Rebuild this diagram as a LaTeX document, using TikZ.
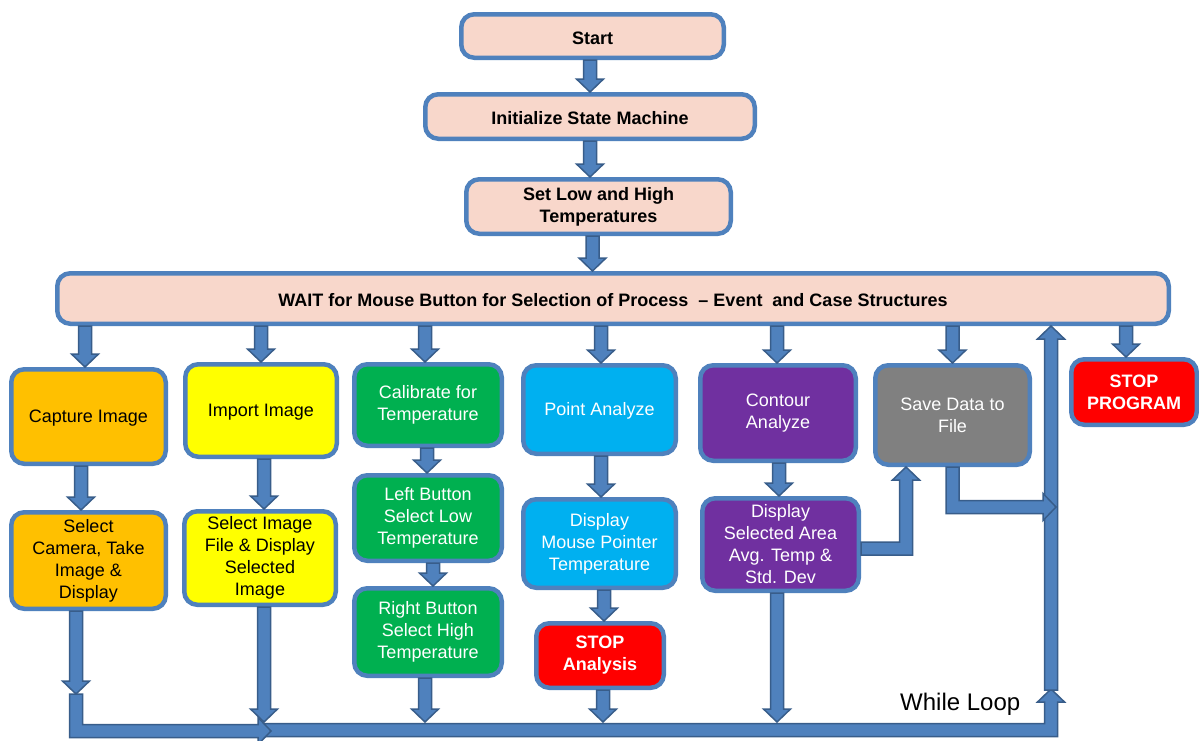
\documentclass[tikz,border=0pt]{standalone}
\usepackage{fontspec}
\setmainfont{Liberation Sans}
\usetikzlibrary{calc}
\definecolor{peach}{HTML}{F8D7CB}
\definecolor{bord}{HTML}{4F81BD}
\definecolor{arrf}{HTML}{4F81BD}
\definecolor{arrd}{HTML}{385D8A}
\definecolor{orng}{HTML}{FFC000}
\definecolor{yel}{HTML}{FFFF00}
\definecolor{grn}{HTML}{00B050}
\definecolor{sky}{HTML}{00B0F0}
\definecolor{purp}{HTML}{7030A0}
\definecolor{gry}{HTML}{808080}
\definecolor{stopred}{HTML}{FF0000}
\tikzset{
  box/.style={draw=bord, line width=4.5pt, rounded corners=13pt, align=center, inner sep=2pt, font=\fontsize{18}{22}\selectfont, execute at begin node={\rule{0pt}{16.5pt}}},
  peachbox/.style={box, fill=peach, font=\fontsize{18}{22}\selectfont\bfseries},
  wbox/.style={box, text=white},
  stopbox/.style={box, fill=stopred, text=white, font=\fontsize{18}{22}\selectfont\bfseries},
  blk/.style={fill=arrf, draw=arrd, line width=1.5pt, line join=miter},
}
\def\aS{6.5pt}
\def\aW{13.5pt}
\def\aL{13pt}
% straight down: start y from #1, tip #2
\newcommand\badown[2]{\draw[blk] let \p1=#1, \p2=#2 in
  (\x2-\aS,\y1) -- (\x2-\aS,\y2+\aL) -- (\x2-\aW,\y2+\aL) -- (\x2,\y2) -- (\x2+\aW,\y2+\aL) -- (\x2+\aS,\y2+\aL) -- (\x2+\aS,\y1) -- cycle;}
% straight up
\newcommand\baup[2]{\draw[blk] let \p1=#1, \p2=#2 in
  (\x2-\aS,\y1) -- (\x2-\aS,\y2-\aL) -- (\x2-\aW,\y2-\aL) -- (\x2,\y2) -- (\x2+\aW,\y2-\aL) -- (\x2+\aS,\y2-\aL) -- (\x2+\aS,\y1) -- cycle;}
% down then right
\newcommand\badownright[2]{\draw[blk] let \p1=#1, \p2=#2 in
  (\x1-\aS,\y1) -- (\x1-\aS,\y2-\aS) -- (\x2-\aL,\y2-\aS) -- (\x2-\aL,\y2-\aW) -- (\x2,\y2) -- (\x2-\aL,\y2+\aW) -- (\x2-\aL,\y2+\aS) -- (\x1+\aS,\y2+\aS) -- (\x1+\aS,\y1) -- cycle;}
% right then up
\newcommand\barightup[2]{\draw[blk] let \p1=#1, \p2=#2 in
  (\x1,\y1+\aS) -- (\x2-\aS,\y1+\aS) -- (\x2-\aS,\y2-\aL) -- (\x2-\aW,\y2-\aL) -- (\x2,\y2) -- (\x2+\aW,\y2-\aL) -- (\x2+\aS,\y2-\aL) -- (\x2+\aS,\y1-\aS) -- (\x1,\y1-\aS) -- cycle;}
\begin{document}
\begin{tikzpicture}[x=1pt,y=-1pt]
\fill[white] (0,0) rectangle (1199,740);
\useasboundingbox (0,0) rectangle (1199,740);
% nodes
\node[peachbox, minimum width=262.5pt, minimum height=43.5pt] (start) at (592.5,36) {Start};
\node[peachbox, minimum width=329.5pt, minimum height=44.5pt] (init) at (590,116.5) {Initialize State Machine};
\node[peachbox, minimum width=264.5pt, minimum height=54.5pt] (setlh) at (598.5,206.5) {Set Low and High\\Temperatures};
\node[peachbox, minimum width=1111.5pt, minimum height=50.5pt] (wait) at (613,298.5) {WAIT for Mouse Button for Selection of Process \ – Event \ and Case Structures};
\node[box, fill=orng, minimum width=154.5pt, minimum height=94.5pt] (cap) at (88.5,416.5) {Capture Image};
\node[box, fill=orng, minimum width=154.5pt, minimum height=96.5pt] (selcam) at (88.5,560.5) {Select\\Camera, Take\\Image \&\\Display};
\node[box, fill=yel, minimum width=151.5pt, minimum height=92.5pt] (imp) at (261,410.5) {Import Image};
\node[box, fill=yel, minimum width=151.5pt, minimum height=93.5pt] (selimg) at (260,558) {Select Image\\File \& Display\\Selected\\Image};
\node[wbox, fill=grn, minimum width=147.5pt, minimum height=81.5pt] (cal) at (428,405) {Calibrate for\\Temperature};
\node[wbox, fill=grn, minimum width=147.5pt, minimum height=85.5pt] (left) at (428,518) {Left Button\\Select Low\\Temperature};
\node[wbox, fill=grn, minimum width=147.5pt, minimum height=87.5pt] (right) at (428,632) {Right Button\\Select High\\Temperature};
\node[wbox, fill=sky, minimum width=152.5pt, minimum height=88.5pt] (point) at (599.5,409.5) {Point Analyze};
\node[wbox, fill=sky, minimum width=152.5pt, minimum height=88.5pt] (disp) at (599.5,543.5) {Display\\Mouse Pointer\\Temperature};
\node[stopbox, minimum width=127.5pt, minimum height=64.5pt] (stopa) at (600,655.5) {STOP\\Analysis};
\node[wbox, fill=purp, minimum width=155.5pt, minimum height=95.5pt] (contour) at (778,413) {Contour\\Analyze};
\node[wbox, fill=purp, minimum width=156.5pt, minimum height=92.5pt] (dsel) at (780.5,544.5) {Display\\Selected Area\\Avg. Temp \&\\Std. Dev};
\node[wbox, fill=gry, minimum width=154.5pt, minimum height=99.5pt] (save) at (952.5,415) {Save Data to\\File};
\node[stopbox, minimum width=125.5pt, minimum height=65.5pt] (stopp) at (1134,392) {STOP\\PROGRAM};
\node[font=\fontsize{24}{28}\selectfont, anchor=base west, inner sep=0pt] (wl) at (900,710) {While Loop};
% loop coordinates
\coordinate (bt) at (0,722);
\coordinate (la) at (76,694);
\coordinate (lb) at (271,731);
\coordinate (lc) at (262,730);
\coordinate (ld) at (1051,689);
\coordinate (le) at (1051,690);
\coordinate (sl) at (1056,507);
% top chain
\badown{(start.south)}{(init.north)}
\badown{(init.south)}{(setlh.north -| init.south)}
\badown{(setlh.south)}{(wait.north -| start.south)}
% wait to processes
\badown{(wait.south)}{([xshift=-3.5pt]cap.north)}
\badown{(wait.south)}{(imp.north)}
\badown{(wait.south)}{([xshift=-3pt]cal.north)}
\badown{(wait.south)}{([xshift=1.5pt]point.north)}
\badown{(wait.south)}{([xshift=-1pt]contour.north)}
\badown{(wait.south)}{(save.north)}
\badown{(wait.south)}{([xshift=-8pt]stopp.north)}
% within columns
\badown{(cap.south)}{([xshift=-7.5pt]selcam.north)}
\badown{(imp.south)}{([xshift=4pt]selimg.north)}
\badown{(cal.south)}{([xshift=-1pt]left.north)}
\badown{(left.south)}{([xshift=5pt]right.north)}
\badown{(point.south)}{([xshift=1.5pt]disp.north)}
\badown{(disp.south)}{([xshift=4pt]stopa.north)}
\badown{(contour.south)}{([xshift=-1.5pt]dsel.north)}
% loop
\barightup{(lc)}{(ld)}
\badownright{(la)}{(lb)}
\baup{(le)}{(wait.south -| le)}
\badown{(selcam.south)}{(la)}
\badown{(selimg.south)}{($(selimg.south |- bt)+(4,0)$)}
\badown{(right.south)}{($(right.south |- bt)+(-3,0)$)}
\badown{(stopa.south)}{($(stopa.south |- bt)+(3,0)$)}
\badown{(dsel.south)}{($(dsel.south |- bt)+(-3.5,0)$)}
\badownright{(save.south)}{(sl)}
\barightup{([yshift=-4pt]dsel.east)}{($(save.south)+(-46.5,0)$)}
\end{tikzpicture}
\end{document}
